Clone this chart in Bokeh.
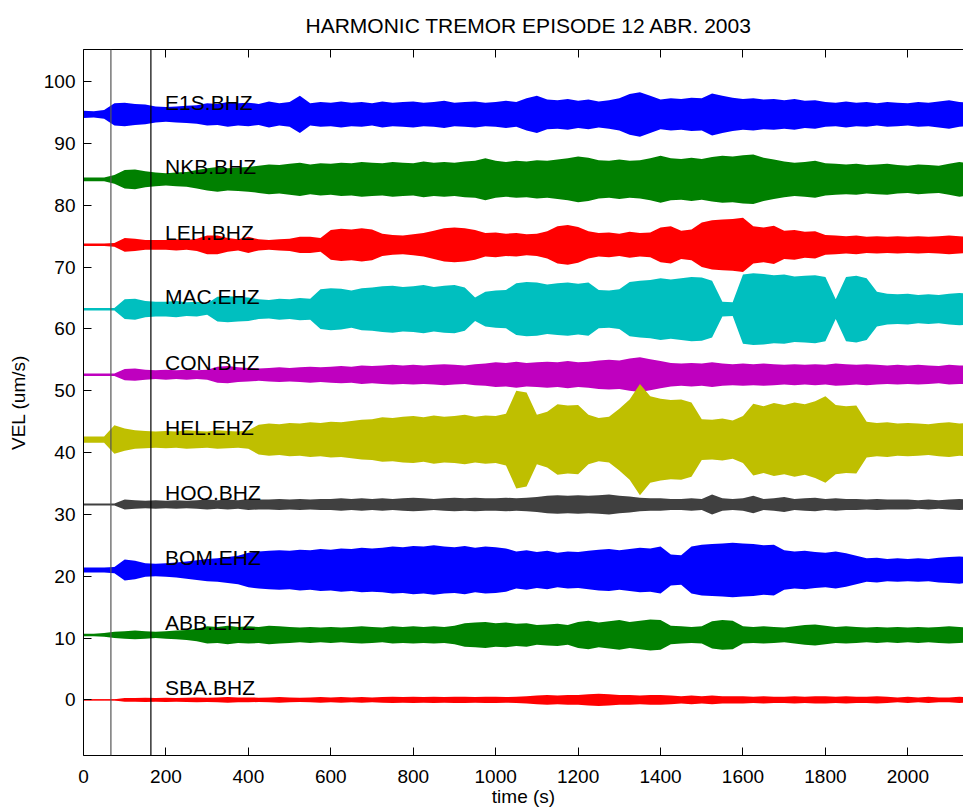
from bokeh.plotting import figure
from bokeh.models import LinearAxis, SingleIntervalTicker, Span, ColumnDataSource
from bokeh.core.properties import value
from bokeh.embed import file_html
from bokeh.resources import INLINE

FONT = "Liberation Sans"

# Stations, plotting offsets (um/s) and MATLAB-style trace colours
stations = ["E1S.BHZ", "NKB.BHZ", "LEH.BHZ", "MAC.EHZ", "CON.BHZ",
            "HEL.EHZ", "HOO.BHZ", "BOM.EHZ", "ABB.EHZ", "SBA.BHZ"]
offsets = [94.7, 84.2, 73.6, 63.2, 52.6, 42.1, 31.6, 21.0, 10.5, 0.0]
colors = ["#0000ff", "#008000", "#ff0000", "#00bfbf", "#bf00bf",
          "#bfbf00", "#404040", "#0000ff", "#008000", "#ff0000"]

# Envelope sample times (s) and half-amplitude of each trace (um/s)
t_env = list(range(0, 2151, 25))

env_e1s = [0.6, 0.5, 0.7, 1.8, 1.9, 1.7, 1.6, 1.3,
           1.2, 1.3, 1.4, 1.5, 1.8, 1.7, 2.0, 1.8,
           1.9, 1.7, 2.1, 1.8, 2.0, 3.0, 1.8, 2.0,
           1.9, 2.1, 1.9, 2.0, 1.8, 2.1, 1.9, 2.0,
           2.1, 1.9, 2.0, 2.2, 1.9, 2.0, 2.1, 1.9,
           2.0, 2.2, 2.0, 2.6, 3.0, 2.4, 2.3, 2.5,
           2.2, 2.4, 2.1, 2.3, 2.6, 3.3, 3.6, 3.0,
           2.4, 2.6, 2.5, 2.7, 2.6, 3.4, 3.0, 2.7,
           2.5, 2.6, 2.4, 2.5, 2.3, 2.5, 2.2, 2.3,
           2.0, 1.9, 2.1, 1.9, 2.0, 1.8, 2.0, 1.9,
           1.8, 2.0, 1.9, 2.1, 2.3, 2.0, 1.9]
env_nkb = [0.3, 0.3, 0.3, 0.7, 1.5, 1.6, 1.3, 1.1,
           1.0, 1.1, 1.2, 1.5, 1.8, 2.0, 1.8, 1.9,
           2.0, 2.2, 2.4, 2.3, 2.5, 2.7, 2.4, 2.6,
           2.5, 2.7, 2.6, 2.8, 2.7, 2.6, 2.8, 2.7,
           2.6, 2.9, 2.7, 2.8, 2.7, 2.9, 3.0, 3.4,
           3.0, 2.8, 3.0, 2.9, 3.1, 3.0, 3.2, 3.4,
           3.7, 3.5, 3.1, 3.0, 3.2, 3.0, 3.1, 3.4,
           3.8, 3.4, 3.3, 3.5, 3.3, 3.6, 3.8, 3.7,
           3.9, 4.0, 3.5, 3.2, 2.9, 2.7, 2.8, 3.0,
           2.6, 2.5, 2.4, 2.5, 2.3, 2.4, 2.5, 2.3,
           2.2, 2.4, 2.3, 2.2, 2.5, 2.8, 2.6]
env_leh = [0.2, 0.2, 0.2, 0.3, 1.1, 1.0, 0.8, 0.8,
           0.8, 0.9, 0.8, 1.0, 1.5, 1.5, 1.1, 0.9,
           1.3, 0.9, 0.8, 0.9, 1.0, 1.3, 1.3, 1.1,
           2.4, 2.6, 2.5, 2.7, 2.5, 1.8, 1.6, 1.5,
           1.7, 1.9, 2.3, 2.7, 2.8, 2.7, 2.4, 1.9,
           2.0, 1.8, 1.9, 1.7, 1.8, 2.2, 3.0, 3.2,
           2.9, 2.2, 1.9, 2.0, 1.8, 2.1, 1.9, 2.0,
           2.8, 3.0, 2.3, 2.5, 3.6, 4.0, 4.1, 4.2,
           4.4, 3.0, 2.8, 3.1, 2.3, 2.4, 2.1, 2.2,
           1.6, 1.5, 1.4, 1.5, 1.3, 1.4, 1.3, 1.4,
           1.3, 1.4, 1.3, 1.4, 1.5, 1.4, 1.3]
env_mac = [0.2, 0.2, 0.2, 0.2, 1.6, 1.7, 1.3, 1.2,
           1.2, 1.3, 1.1, 1.2, 0.9, 2.0, 2.1, 2.0,
           1.9, 1.6, 1.5, 1.7, 1.6, 1.8, 1.7, 3.2,
           3.4, 3.3, 3.0, 3.4, 3.5, 3.7, 3.8, 3.6,
           3.7, 3.9, 3.6, 3.8, 3.9, 3.5, 1.9, 2.8,
           3.0, 3.1, 4.2, 4.4, 4.3, 4.0, 4.2, 4.3,
           4.1, 4.3, 3.1, 3.0, 3.2, 4.4, 4.6, 4.7,
           5.0, 4.8, 5.0, 5.2, 5.1, 4.6, 1.2, 1.1,
           5.6, 5.8, 5.7, 5.5, 5.6, 5.3, 5.4, 5.5,
           5.2, 1.6, 5.2, 5.4, 5.0, 2.8, 2.5, 2.4,
           2.5, 2.3, 2.4, 2.3, 2.5, 2.6, 2.5]
env_con = [0.2, 0.2, 0.2, 0.2, 0.9, 1.0, 0.8, 0.7,
           0.8, 0.7, 0.8, 0.7, 0.8, 1.3, 1.4, 1.2,
           1.1, 1.0, 1.1, 1.2, 1.1, 1.2, 1.3, 1.2,
           1.3, 1.4, 1.3, 1.5, 1.4, 1.5, 1.6, 1.5,
           1.6, 1.5, 1.6, 1.7, 1.6, 1.5, 1.7, 1.8,
           2.0, 1.9, 2.1, 1.9, 2.0, 2.1, 2.0, 2.2,
           2.0, 2.1, 2.3, 2.4, 2.3, 2.6, 2.8, 2.5,
           2.2, 1.9, 1.8, 1.9, 1.8, 2.0, 1.8, 1.7,
           1.8, 1.7, 1.8, 1.7, 1.6, 1.7, 1.6, 1.7,
           1.6, 1.8, 1.7, 1.6, 1.7, 1.6, 1.5, 1.6,
           1.5, 1.6, 1.5, 1.4, 1.6, 1.5, 1.5]
env_hel = [0.5, 0.5, 0.5, 2.3, 1.8, 1.5, 1.4, 1.3,
           1.4, 1.3, 1.5, 1.4, 1.3, 1.5, 1.4, 1.3,
           1.5, 2.4, 2.6, 2.5, 2.7, 2.6, 2.8, 2.7,
           2.9, 2.8, 3.0, 3.2, 3.3, 3.6, 3.5, 3.7,
           3.8, 3.6, 3.9, 3.7, 3.8, 4.0, 3.7, 3.9,
           3.8, 4.2, 7.9, 7.6, 4.0, 4.5, 5.7, 5.5,
           5.6, 4.0, 3.5, 3.7, 5.0, 6.5, 9.0, 7.0,
           6.6, 6.4, 6.5, 6.0, 3.3, 3.2, 3.4, 3.1,
           3.8, 5.8, 5.4, 5.9, 5.6, 6.0, 5.7, 6.2,
           7.0, 5.6, 5.4, 5.5, 2.9, 2.7, 2.8, 2.6,
           2.7, 2.6, 2.5, 2.7, 2.8, 2.6, 2.7]
env_hoo = [0.15, 0.15, 0.15, 0.15, 0.8, 0.7, 0.6, 0.7,
           0.6, 0.7, 0.6, 0.7, 0.8, 0.7, 0.8, 0.7,
           0.9, 0.8, 0.8, 0.9, 0.8, 0.9, 0.8, 0.9,
           0.9, 1.0, 0.9, 1.0, 0.9, 1.0, 0.9, 1.0,
           1.1, 1.0, 0.9, 1.0, 1.1, 1.0, 1.1, 1.0,
           1.0, 1.1, 1.0, 1.1, 1.2, 1.4, 1.5, 1.4,
           1.5, 1.4, 1.5, 1.6, 1.4, 1.3, 1.1, 1.0,
           1.0, 0.9, 0.9, 1.0, 0.9, 1.6, 1.0, 0.9,
           1.0, 1.4, 0.9, 1.0, 1.2, 0.9, 1.0, 1.1,
           0.9, 1.0, 0.9, 0.9, 0.8, 0.9, 0.8, 0.8,
           0.8, 0.7, 0.8, 0.7, 0.8, 0.9, 0.8]
env_bom = [0.4, 0.4, 0.4, 0.5, 1.7, 1.5, 1.1, 1.0,
           1.1, 1.2, 1.4, 1.6, 1.8, 1.9, 2.1, 2.3,
           2.8, 3.0, 3.1, 3.2, 3.1, 3.3, 3.2, 3.4,
           3.3, 3.5, 3.4, 3.6, 3.5, 3.6, 3.8, 3.7,
           3.9, 3.8, 4.0, 3.8, 3.7, 3.9, 3.6, 3.8,
           3.7, 3.5, 3.0, 3.2, 2.9, 3.1, 2.8, 3.0,
           2.9, 3.1, 3.3, 3.4, 3.2, 3.4, 3.6, 3.5,
           3.8, 2.5, 2.4, 3.8, 4.1, 4.2, 4.3, 4.4,
           4.3, 4.2, 4.0, 4.1, 3.2, 3.0, 3.1, 2.9,
           2.8, 3.0, 2.7, 2.3, 1.9, 2.0, 1.8, 1.9,
           1.8, 1.9, 1.8, 2.0, 2.1, 2.2, 2.0]
env_abb = [0.2, 0.2, 0.3, 0.5, 0.6, 0.7, 0.6, 0.5,
           0.6, 0.7, 0.8, 1.0, 1.4, 1.3, 1.5, 1.3,
           1.4, 1.3, 1.5, 1.4, 1.3, 1.2, 1.3, 1.2,
           1.3, 1.2, 1.3, 1.4, 1.3, 1.2, 1.4, 1.3,
           1.4, 1.3, 1.4, 1.3, 1.5, 1.9, 2.0, 2.1,
           1.9, 2.0, 1.8, 1.9, 1.6, 1.7, 1.8, 1.6,
           2.1, 2.3, 2.0, 2.2, 2.4, 2.1, 2.3, 2.5,
           2.4, 1.5, 1.4, 1.3, 1.4, 2.2, 2.4, 2.3,
           1.4, 1.3, 1.4, 1.3, 1.2, 1.4, 1.6, 1.7,
           1.5, 1.3, 1.4, 1.3, 1.2, 1.3, 1.2, 1.3,
           1.2, 1.3, 1.2, 1.3, 1.4, 1.3, 1.2]
env_sba = [0.1, 0.1, 0.1, 0.1, 0.3, 0.3, 0.35, 0.3,
           0.35, 0.3, 0.35, 0.4, 0.35, 0.4, 0.45, 0.4,
           0.4, 0.35, 0.4, 0.45, 0.4, 0.35, 0.4, 0.45,
           0.4, 0.45, 0.4, 0.45, 0.4, 0.45, 0.5, 0.45,
           0.5, 0.45, 0.5, 0.45, 0.5, 0.5, 0.45, 0.5,
           0.5, 0.45, 0.5, 0.6, 0.7, 0.8, 0.7, 0.8,
           0.8, 0.9, 1.0, 0.9, 0.8, 0.8, 0.7, 0.8,
           0.8, 0.7, 0.6, 0.7, 0.6, 0.7, 0.6, 0.6,
           0.6, 0.5, 0.6, 0.5, 0.5, 0.6, 0.5, 0.6,
           0.6, 0.5, 0.6, 0.5, 0.5, 0.6, 0.5, 0.4,
           0.5, 0.4, 0.5, 0.4, 0.4, 0.5, 0.4]

envelopes = [env_e1s, env_nkb, env_leh, env_mac, env_con,
             env_hel, env_hoo, env_bom, env_abb, env_sba]

# Times (s) of the two vertical reference lines
event_times = [66.5, 163.5]
event_colors = ["#555555", "#000000"]

x_ticks = [0, 200, 400, 600, 800, 1000, 1200, 1400, 1600, 1800, 2000]

label_time = 198.0   # left edge of the station names (s)
label_rise = 2.0     # station name baseline above the trace offset

p = figure(width=963, height=810,
           x_range=(0, 2135), y_range=(-9.0, 105.2),
           output_backend="svg", toolbar_location=None,
           min_border_left=83, min_border_right=0,
           min_border_top=49, min_border_bottom=55,
           title="HARMONIC TREMOR EPISODE 12 ABR. 2003")

p.outline_line_color = None
p.xgrid.visible = False
p.ygrid.visible = False
p.background_fill_color = "white"
p.border_fill_color = "white"

p.title.align = "left"
p.title.offset = 222
p.title.standoff = 17
p.title.text_font = FONT
p.title.text_font_size = "21px"
p.title.text_font_style = "normal"
p.title.text_color = "black"

# seismogram envelopes
for base, env, col in zip(offsets, envelopes, colors):
    lo = [base - a for a in env]
    hi = [base + a for a in env]
    p.line(t_env, [base] * len(t_env), color=col, line_width=1)
    p.varea(x=t_env, y1=lo, y2=hi, fill_color=col, fill_alpha=1.0)

for tt, cc in zip(event_times, event_colors):
    p.add_layout(Span(location=tt, dimension="height", line_color=cc, line_width=1.2))

lab_src = ColumnDataSource(dict(
    x=[label_time] * len(stations),
    y=[b + label_rise for b in offsets],
    text=stations,
))
p.text(x="x", y="y", text="text", source=lab_src,
       text_font=value(FONT), text_font_size="21px", text_color="black",
       text_baseline="alphabetic", text_align="left")

for ax in [p.xaxis[0], p.yaxis[0]]:
    ax.major_tick_in = 8
    ax.major_tick_out = 0
    ax.minor_tick_line_color = None
    ax.axis_line_color = "black"
    ax.major_tick_line_color = "black"
    ax.major_label_text_font = FONT
    ax.major_label_text_font_size = "19px"
    ax.major_label_text_color = "black"
    ax.axis_label_text_font = FONT
    ax.axis_label_text_font_size = "19px"
    ax.axis_label_text_font_style = "normal"
    ax.axis_label_text_color = "black"

p.xaxis[0].ticker = SingleIntervalTicker(interval=200)
p.yaxis[0].ticker = SingleIntervalTicker(interval=10)
p.xaxis[0].axis_label = "time (s)"
p.yaxis[0].axis_label = "VEL (um/s)"
p.xaxis[0].major_label_standoff = 10
p.xaxis[0].axis_label_standoff = 0
p.yaxis[0].major_label_standoff = 4
p.yaxis[0].axis_label_standoff = 12

# top frame edge with inward ticks and no labels
top = LinearAxis(ticker=SingleIntervalTicker(interval=200),
                 major_tick_in=8, major_tick_out=0,
                 minor_tick_line_color=None,
                 major_label_overrides={t: "" for t in x_ticks},
                 major_label_standoff=0)
p.add_layout(top, "above")

open("out.html", "w").write(file_html(p, INLINE))
